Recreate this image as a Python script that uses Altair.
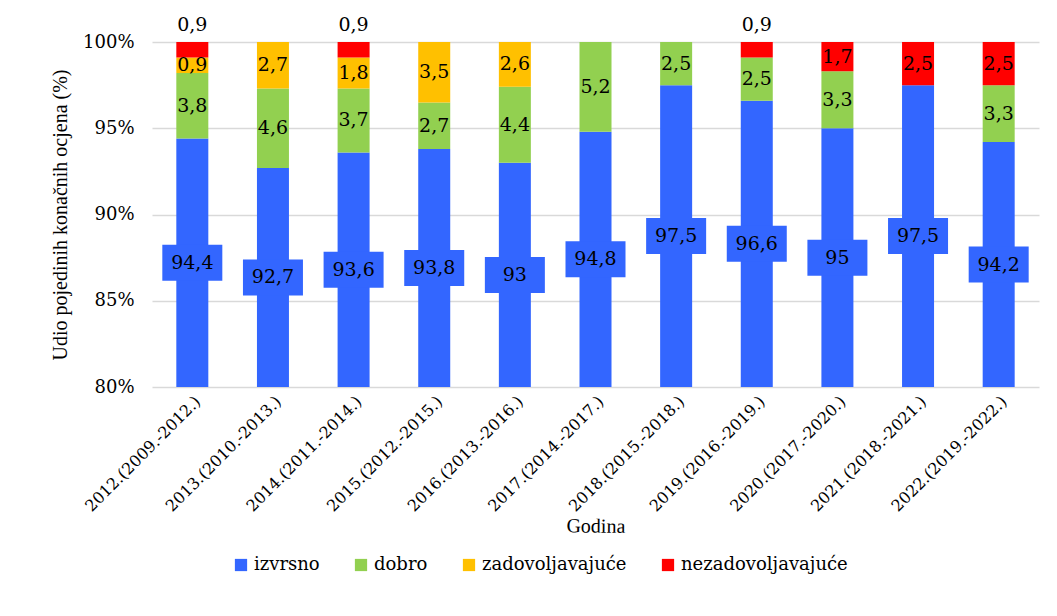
import altair as alt
import pandas as pd

godine = ["2012.(2009.-2012.)", "2013.(2010.-2013.)", "2014.(2011.-2014.)", "2015.(2012.-2015.)",
          "2016.(2013.-2016.)", "2017.(2014.-2017.)", "2018.(2015.-2018.)", "2019.(2016.-2019.)",
          "2020.(2017.-2020.)", "2021.(2018.-2021.)", "2022.(2019.-2022.)"]
izvrsno = [94.4, 92.7, 93.6, 93.8, 93.0, 94.8, 97.5, 96.6, 95.0, 97.5, 94.2]
dobro = [3.8, 4.6, 3.7, 2.7, 4.4, 5.2, 2.5, 2.5, 3.3, 0, 3.3]
zadovoljavajuce = [0.9, 2.7, 1.8, 3.5, 2.6, 0, 0, 0, 0, 0, 0]
nezadovoljavajuce = [0.9, 0, 0.9, 0, 0, 0, 0, 0.9, 1.7, 2.5, 2.5]

kategorije = ["izvrsno", "dobro", "zadovoljavajuće", "nezadovoljavajuće"]
boje = ["#3366FF", "#92D050", "#FFC000", "#FF0000"]
serije = [izvrsno, dobro, zadovoljavajuce, nezadovoljavajuce]

rows = []
for i, g in enumerate(godine):
    cum = 0.0
    for k, (naziv, s) in enumerate(zip(kategorije, serije)):
        v = s[i]
        if v == 0:
            continue
        if k == 0:
            pos = (80 + v) / 2
        elif k == 3 and v < 1:
            pos = 101.0
        else:
            pos = cum + v / 2
        rows.append({"godina": g, "ocjena": naziv, "red": k, "vrijednost": v,
                     "pos": pos, "oznaka": f"{v:g}".replace(".", ",")})
        cum += v
df = pd.DataFrame(rows)

TFONT = "Liberation Serif"
LFONT = "DejaVu Serif"
xenc = alt.X("godina:N", sort=godine, title="Godina",
             axis=alt.Axis(labelAngle=-45, labelFontSize=16, titleFontSize=20,
                           labelFont=LFONT, titleFont=TFONT, ticks=False, domain=False,
                           labelFontWeight="normal", titleFontWeight="normal", titleAngle=0.5,
                           labelColor="black", titleColor="black", labelPadding=6,
                           titlePadding=2))

bars = alt.Chart(df).mark_bar(clip=True, width=32).encode(
    x=xenc,
    y=alt.Y("vrijednost:Q", stack="zero",
            scale=alt.Scale(domain=[80, 100], zero=False, nice=False),
            title="Udio pojedinih konačnih ocjena (%)",
            axis=alt.Axis(values=[80, 85, 90, 95, 100], labelExpr="datum.value + '%'",
                          labelFontSize=18, titleFontSize=20, labelFont=LFONT, titleFont=TFONT,
                          labelFontWeight="normal",
                          ticks=False, domain=False, gridColor="#d9d9d9", gridWidth=1.5,
                          labelColor="black", titleColor="black", titleFontWeight="normal",
                          labelPadding=18, titlePadding=12)),
    color=alt.Color("ocjena:N", sort=kategorije,
                    scale=alt.Scale(domain=kategorije, range=boje),
                    legend=alt.Legend(title=None, orient="none", direction="horizontal",
                                      legendX=80, legendY=514, labelFont=LFONT, labelFontSize=18,
                                      labelFontWeight="normal", labelLimit=400,
                                      labelColor="black", symbolType="square", symbolSize=150,
                                      symbolStrokeWidth=0, columnPadding=32, labelOffset=4)),
    order=alt.Order("red:Q"),
)

base = alt.Chart(df[df["ocjena"] == "izvrsno"])
boxes = base.mark_tick(thickness=36, size=60, color="#3366FF", opacity=1, strokeWidth=0).encode(
    x=alt.X("godina:N", sort=godine), y="pos:Q")

labels = alt.Chart(df).mark_text(font=LFONT, fontWeight="normal", fontSize=19, color="black",
                                 baseline="middle").encode(
    x=alt.X("godina:N", sort=godine), y="pos:Q", text="oznaka:N")

chart = alt.layer(bars, boxes, labels).properties(
    width=887, height=345,
    autosize=alt.AutoSizeParams(type="none"),
    padding={"left": 144, "top": 34, "right": 10, "bottom": 220},
).configure_view(stroke=None).configure_axisX(grid=False)

chart.save("out.html", embed_options={"renderer": "svg", "actions": False})
